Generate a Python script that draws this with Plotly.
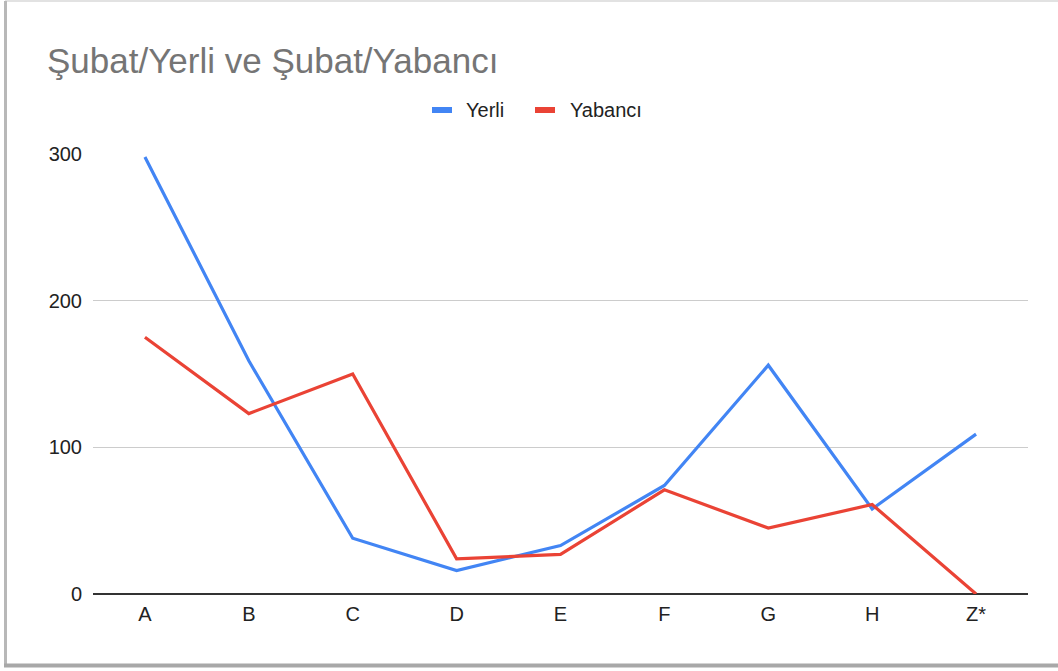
import plotly.graph_objects as go

categories = ["A", "B", "C", "D", "E", "F", "G", "H", "Z*"]
yerli = [298, 159, 38, 16, 33, 74, 156, 58, 109]
yabanci = [175, 123, 150, 24, 27, 71, 45, 61, 0]
y_ticks = [0, 100, 200, 300]

W, H = 1058, 671
L, R, T, B = 93, 30, 154, 77
FONT = "Liberation Sans, Arial, sans-serif"
BLUE = "#4285F4"
RED = "#EA4335"


def px_x(x):
    return (x - L) / (W - L - R)


def px_y(y):
    return (H - B - y) / (H - T - B)


fig = go.Figure()
fig.add_trace(go.Scatter(x=categories, y=yerli, name="Yerli", mode="lines",
                         line=dict(color=BLUE, width=3.2), showlegend=False))
fig.add_trace(go.Scatter(x=categories, y=yabanci, name="Yabancı", mode="lines",
                         line=dict(color=RED, width=3.2), showlegend=False))

shapes = [
    # card frame with a soft shadow on the left and bottom edges
    dict(type="rect", xref="paper", yref="paper", layer="below",
         x0=px_x(0), x1=px_x(W), y0=px_y(0), y1=px_y(H),
         fillcolor="#ffffff", line=dict(width=0)),
    dict(type="line", xref="paper", yref="paper", layer="below",
         x0=px_x(5), x1=px_x(W), y0=px_y(1), y1=px_y(1),
         line=dict(color="#e2e2e2", width=2)),
    dict(type="line", xref="paper", yref="paper", layer="below",
         x0=px_x(5.5), x1=px_x(5.5), y0=px_y(1), y1=px_y(666),
         line=dict(color="#b8b8b8", width=3)),
    dict(type="line", xref="paper", yref="paper", layer="below",
         x0=px_x(4), x1=px_x(W), y0=px_y(665.5), y1=px_y(665.5),
         line=dict(color="#a8a8a8", width=4)),
    # legend swatches
    dict(type="line", xref="paper", yref="paper",
         x0=px_x(432), x1=px_x(452), y0=px_y(110), y1=px_y(110),
         line=dict(color=BLUE, width=6)),
    dict(type="line", xref="paper", yref="paper",
         x0=px_x(535), x1=px_x(555), y0=px_y(110), y1=px_y(110),
         line=dict(color=RED, width=6)),
]

annotations = [
    dict(text="Yerli", xref="paper", yref="paper", x=px_x(464), y=px_y(110),
         xanchor="left", yanchor="middle", showarrow=False,
         font=dict(family=FONT, size=20, color="#222222")),
    dict(text="Yabancı", xref="paper", yref="paper", x=px_x(568), y=px_y(110),
         xanchor="left", yanchor="middle", showarrow=False,
         font=dict(family=FONT, size=20, color="#222222")),
]

fig.update_layout(
    width=W, height=H,
    margin=dict(l=L, r=R, t=T, b=B),
    paper_bgcolor="#ffffff", plot_bgcolor="rgba(0,0,0,0)",
    title=dict(text="Şubat/Yerli ve Şubat/Yabancı", xref="container", yref="container",
               x=47 / W, xanchor="left", y=1 - 61 / H, yanchor="middle",
               font=dict(family=FONT, size=35, color="#757575")),
    shapes=shapes,
    annotations=annotations,
    showlegend=False,
    font=dict(family=FONT, size=20, color="#222222"),
)
fig.update_xaxes(type="category", range=[-0.5, len(categories) - 0.5],
                 showgrid=False, showline=False, zeroline=False,
                 ticks="", ticklabelstandoff=6,
                 tickfont=dict(family=FONT, size=20, color="#222222"))
fig.update_yaxes(range=[0, 300], tickvals=y_ticks, ticktext=[str(v) for v in y_ticks],
                 showgrid=True, gridcolor="#cccccc", gridwidth=1,
                 zeroline=True, zerolinecolor="#333333", zerolinewidth=1.5,
                 showline=False, ticks="", ticklabelstandoff=10,
                 tickfont=dict(family=FONT, size=20, color="#222222"))

fig.write_html("out.html")
